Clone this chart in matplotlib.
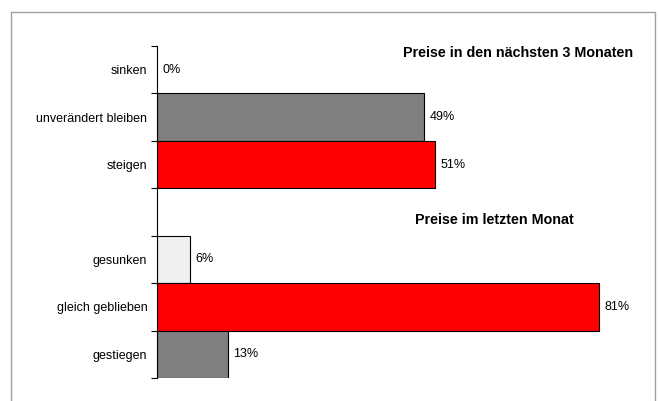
import matplotlib.pyplot as plt
from matplotlib.lines import Line2D

plt.rcParams['font.family'] = ['Liberation Sans', 'DejaVu Sans']

# Kategorien von oben nach unten (leerer Eintrag = Abstand zwischen den Gruppen)
labels = ['sinken', 'unverändert bleiben', 'steigen', '',
          'gesunken', 'gleich geblieben', 'gestiegen']
values = [0, 49, 51, None, 6, 81, 13]
colors = ['#f0f0f0', '#808080', '#ff0000', None, '#f0f0f0', '#ff0000', '#808080']
titles = ['Preise in den nächsten 3 Monaten', 'Preise im letzten Monat']

fig = plt.figure(figsize=(6.58, 4.01), dpi=100)
ax = fig.add_axes([157/658, 1-378/401, (640-157)/658, (378-46)/401])

pos = list(range(len(labels)))
for p, v, c in zip(pos, values, colors):
    if v is None:
        continue
    if v > 0:
        ax.barh(p, v, height=1.0, color=c, edgecolor='black', linewidth=0.8)
    ax.text(v + 1.0, p, f'{v}%', va='center', ha='left', fontsize=9)

ax.set_ylim(len(labels) - 0.5, -0.5)
ax.set_xlim(0, (640-157)/5.457)

ax.set_yticks(pos)
ax.set_yticklabels(labels, fontsize=9)
ax.tick_params(axis='y', which='major', length=0, pad=7)
ax.set_yticks([p - 0.5 for p in pos] + [len(labels) - 0.5], minor=True)
ax.tick_params(axis='y', which='minor', length=4, width=0.8, direction='out')
ax.set_xticks([])

for s in ['top', 'right', 'bottom']:
    ax.spines[s].set_visible(False)
ax.spines['left'].set_linewidth(0.8)

# Gruppentitel
ax.text(518/658, 1-53/401, titles[0], transform=fig.transFigure,
        ha='center', va='center', fontsize=10.3, fontweight='bold')
ax.text(494/658, 1-220/401, titles[1], transform=fig.transFigure,
        ha='center', va='center', fontsize=10.3, fontweight='bold')

# grauer Rahmen (unten offen)
fx = [10.5/658, 10.5/658, 654.5/658, 654.5/658]
fy = [0, 1-11.5/401, 1-11.5/401, 0]
fig.add_artist(Line2D(fx, fy, color='#a0a0a0', linewidth=1.0))

fig.savefig('out.png', dpi=100)
